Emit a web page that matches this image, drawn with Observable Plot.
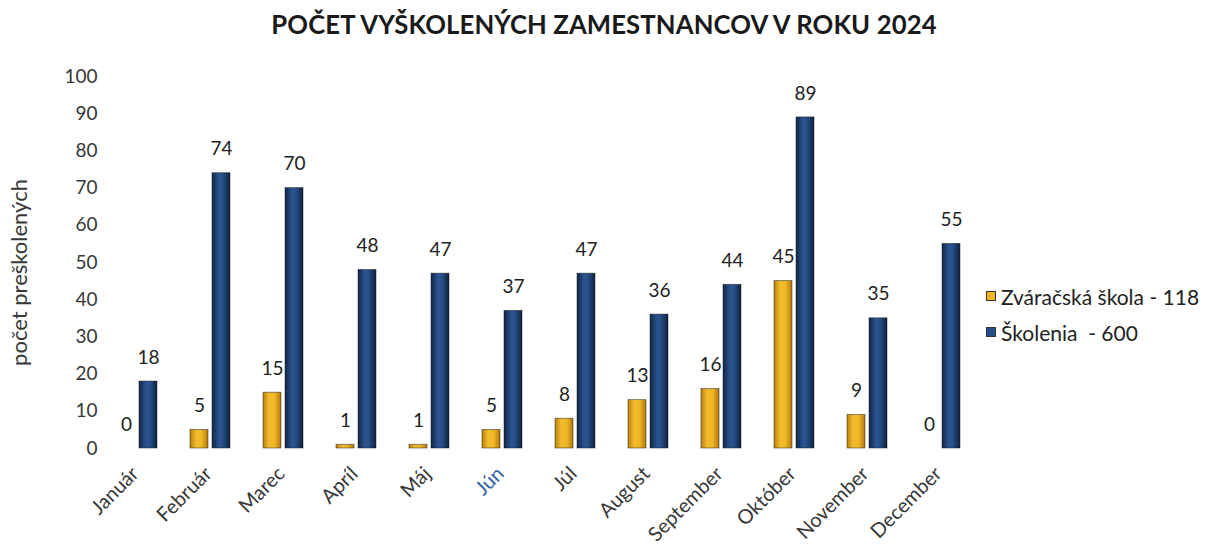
<!DOCTYPE html>
<html>
<head>
<meta charset="utf-8">
<script src="https://cdn.jsdelivr.net/npm/d3@7"></script>
<script src="https://cdn.jsdelivr.net/npm/@observablehq/plot@0.6"></script>
<style>
  html, body { margin: 0; padding: 0; background: #fff; }
  #wrap { position: relative; width: 1208px; height: 549px; overflow: hidden; font-family: Lato, "Open Sans", sans-serif; }
  #title { position: absolute; left: 0; top: 9px; width: 1208px; text-align: center; font-weight: 700; font-size: 25.7px; color: #1a1a1a; letter-spacing: 0.1px; }
  #chart { position: absolute; left: 0; top: 60px; }
  #legend { position: absolute; left: 986px; top: 278px; font-size: 21px; color: #222; }
  .li { display: flex; align-items: center; height: 36px; white-space: pre; }
  .sw { width: 10px; height: 10px; margin-right: 5px; border: 1px solid #333; box-sizing: border-box; }
</style>
</head>
<body>
<svg width="0" height="0" style="position:absolute">
  <defs>
    <linearGradient id="gy" x1="0" x2="1" y1="0" y2="0">
      <stop offset="0" stop-color="#b88210"/>
      <stop offset="0.35" stop-color="#f3bd2e"/>
      <stop offset="0.65" stop-color="#f0b526"/>
      <stop offset="1" stop-color="#b07a0c"/>
    </linearGradient>
    <linearGradient id="gb" x1="0" x2="1" y1="0" y2="0">
      <stop offset="0" stop-color="#122645"/>
      <stop offset="0.4" stop-color="#2b5592"/>
      <stop offset="0.6" stop-color="#27508a"/>
      <stop offset="1" stop-color="#0f203d"/>
    </linearGradient>
  </defs>
</svg>
<div id="wrap">
  <div id="title">POČET VYŠKOLENÝCH ZAMESTNANCOV V ROKU 2024</div>
  <div id="chart"></div>
  <div id="legend"></div>
</div>
<script>
const months = ["Január","Február","Marec","Apríl","Máj","Jún","Júl","August","September","Október","November","December"];
const seriesNames = ["Zváračská škola","Školenia"];
const zvaracska = [0, 5, 15, 1, 1, 5, 8, 13, 16, 45, 9, 0];
const skolenia = [18, 74, 70, 48, 47, 37, 47, 36, 44, 89, 35, 55];
const legendLabels = ["Zváračská škola - 118", "Školenia  - 600"];
const yTicks = [0, 10, 20, 30, 40, 50, 60, 70, 80, 90, 100];
const yLabel = "počet preškolených";
const fills = ["url(#gy)", "url(#gb)"];
const swatchColors = ["#f0b323", "#27508a"];

const data = months.flatMap((m, i) => [
  {month: m, series: seriesNames[0], value: zvaracska[i]},
  {month: m, series: seriesNames[1], value: skolenia[i]}
]);

const chart = Plot.plot({
  width: 1208,
  height: 489,
  marginLeft: 100,
  marginRight: 231,
  marginTop: 16,
  marginBottom: 101,
  style: {fontFamily: "Lato, 'Open Sans', sans-serif", fontSize: "19px", color: "#383838", background: "transparent"},
  fx: {domain: months, paddingInner: 0.45, paddingOuter: 0.2, label: null},
  x: {domain: seriesNames, paddingInner: 0.2, paddingOuter: 0, axis: null},
  y: {domain: [0, 100]},
  color: {domain: seriesNames, range: fills},
  marks: [
    Plot.axisY({ticks: yTicks, tickSize: 0, tickPadding: 20, label: yLabel, labelAnchor: "center", labelArrow: "none", labelOffset: 106}),
    Plot.axisFx({anchor: "bottom", tickRotate: -45, tickSize: 0, tickPadding: 22, dx: -2, fontSize: 20, label: null}),
    Plot.barY(data, {fx: "month", x: "series", y: "value", fill: "series", stroke: "#1c1c1c", strokeWidth: 0.8, strokeOpacity: 0.6}),
    Plot.text(data, {fx: "month", x: "series", y: "value", text: d => String(d.value), dy: -24, fontSize: 19, fill: "#222"})
  ]
});
document.getElementById("chart").appendChild(chart);

// colour the "Jún" month label like the reference
d3.select(chart).selectAll("g[aria-label='fx-axis tick label'] text").each(function() {
  if (this.textContent === "Jún") this.setAttribute("fill", "#2f5f9e");
});
// y-axis title: larger and a little lower, as in the reference
d3.select(chart).selectAll("g[aria-label='y-axis label'] text").each(function() {
  this.setAttribute("font-size", "22px");
  const t = this.getAttribute("transform") || "";
  this.setAttribute("transform", "translate(0,10) " + t);
});

const legend = d3.select("#legend");
legendLabels.forEach((t, i) => {
  const row = legend.append("div").attr("class", "li");
  row.append("div").attr("class", "sw").style("background", swatchColors[i]);
  row.append("span").text(t);
});
</script>
</body>
</html>
